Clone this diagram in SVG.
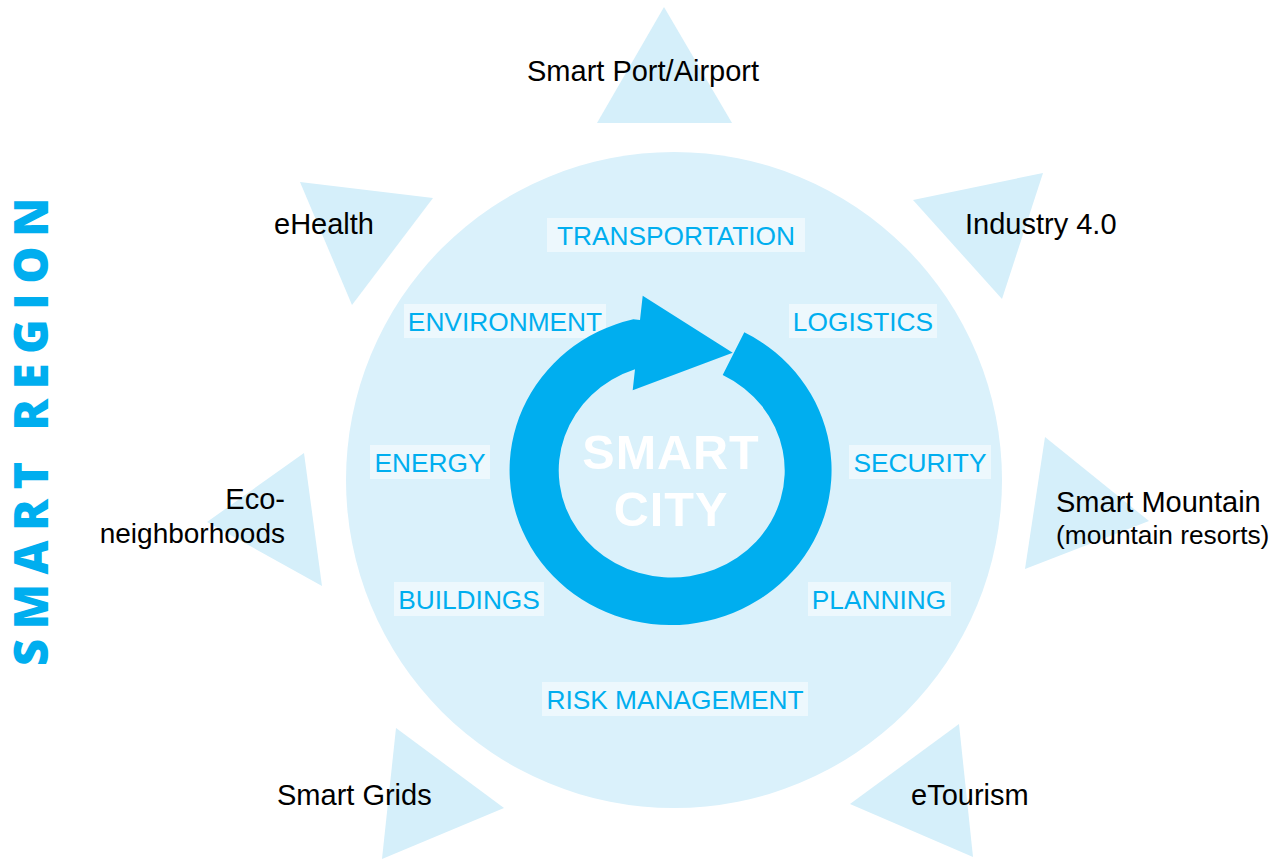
<svg xmlns="http://www.w3.org/2000/svg" width="1279" height="859" viewBox="0 0 1279 859">
  <style>
    .tri { fill: #D5EFFA; }
    .lbl { font-family: "Liberation Sans", Arial, sans-serif; font-size: 29px; fill: #000000; }
    .sub { font-family: "Liberation Sans", Arial, sans-serif; font-size: 26.3px; fill: #000000; }
    .bg { fill: #EDF8FD; }
    .sec { font-family: "Liberation Sans", Arial, sans-serif; font-size: 26.3px; fill: #00AEEF; text-anchor: middle; }
    .city { font-family: "Liberation Sans", Arial, sans-serif; font-size: 48.5px; font-weight: bold; fill: #FFFFFF; text-anchor: middle; letter-spacing: 1px; }
    .region { font-family: "Open Sans", "Liberation Sans", sans-serif; font-size: 47px; font-weight: 800; fill: #00AEEF; letter-spacing: 9.5px; }
  </style>
  <rect width="1279" height="859" fill="#FFFFFF"/>

  <g id="smart-region">
    <text class="region" transform="translate(48,666) rotate(-90)" x="0" y="0">SMART REGION</text>
  </g>

  <g id="smart-city-circle">
    <circle cx="674" cy="480" r="328" fill="#DAF1FB"/>
  </g>

  <g id="outer-nodes">
    <g id="node-port">
      <polygon class="tri" points="664,7 597,123 732,123"/>
      <text class="lbl" x="527" y="81">Smart Port/Airport</text>
    </g>
    <g id="node-ehealth">
      <polygon class="tri" points="300,182 433,198 352,305"/>
      <text class="lbl" x="274" y="234">eHealth</text>
    </g>
    <g id="node-industry">
      <polygon class="tri" points="913,200 1043,173 1002,299"/>
      <text class="lbl" x="965" y="234">Industry 4.0</text>
    </g>
    <g id="node-mountain">
      <polygon class="tri" points="1045,437 1149,521 1025,569"/>
      <text class="lbl" x="1056" y="512">Smart Mountain</text>
      <text class="sub" x="1056" y="544">(mountain resorts)</text>
    </g>
    <g id="node-eco">
      <polygon class="tri" points="304,453 322,586 207,522"/>
      <text class="lbl" x="285" y="509" text-anchor="end">Eco-</text>
      <text class="lbl" x="285" y="543" text-anchor="end" style="font-size:28px">neighborhoods</text>
    </g>
    <g id="node-grids">
      <polygon class="tri" points="396,728 504,808 382,859"/>
      <text class="lbl" x="277" y="805">Smart Grids</text>
    </g>
    <g id="node-tourism">
      <polygon class="tri" points="959,724 850,804 973,857"/>
      <text class="lbl" x="911" y="805">eTourism</text>
    </g>
  </g>

  <g id="sectors">
    <g id="sec-transportation"><rect class="bg" x="547" y="218" width="258" height="34"/><text class="sec" x="676" y="245">TRANSPORTATION</text></g>
    <g id="sec-environment"><rect class="bg" x="404" y="304" width="202" height="34"/><text class="sec" x="505" y="331">ENVIRONMENT</text></g>
    <g id="sec-logistics"><rect class="bg" x="789" y="304" width="148" height="34"/><text class="sec" x="863" y="331">LOGISTICS</text></g>
    <g id="sec-energy"><rect class="bg" x="370" y="445" width="120" height="34"/><text class="sec" x="430" y="472">ENERGY</text></g>
    <g id="sec-security"><rect class="bg" x="849" y="445" width="142" height="34"/><text class="sec" x="920" y="472">SECURITY</text></g>
    <g id="sec-buildings"><rect class="bg" x="394" y="582" width="150" height="34"/><text class="sec" x="469" y="609">BUILDINGS</text></g>
    <g id="sec-planning"><rect class="bg" x="808" y="582" width="143" height="34"/><text class="sec" x="879" y="609">PLANNING</text></g>
    <g id="sec-risk"><rect class="bg" x="542" y="682" width="266" height="34"/><text class="sec" x="675" y="709">RISK MANAGEMENT</text></g>
  </g>

  <g id="connectors">
    <path id="cycle-arrow" d="M 744.3 332.3 A 161 155 0 1 1 633.3 319.3 L 640 320 L 642.7 295.7 L 732.7 352.7 L 632.7 390.3 L 635 369.3 A 113 107 0 1 0 722.7 375 Z" fill="#00AEEF"/>
  </g>

  <g id="smart-city">
    <text class="city" x="671" y="469">SMART</text>
    <text class="city" x="671" y="526">CITY</text>
  </g>
</svg>
